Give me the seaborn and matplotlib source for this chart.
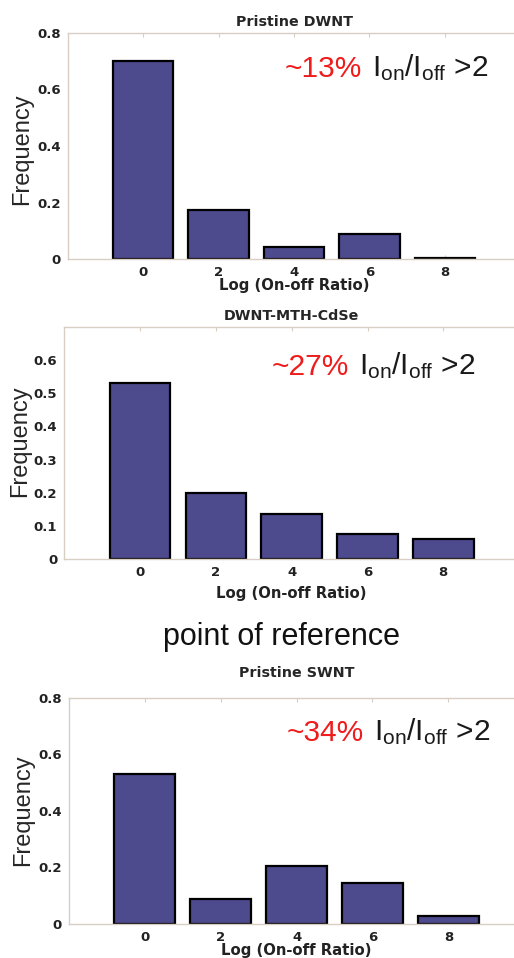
import matplotlib
matplotlib.use("Agg")
import matplotlib.pyplot as plt
import seaborn as sns
import pandas as pd

# =============================
# Data
# =============================
log_ratio = [0, 2, 4, 6, 8]

freq_dwnt = [0.70, 0.175, 0.044, 0.087, 0.003]
freq_cdse = [0.531, 0.198, 0.137, 0.076, 0.061]
freq_swnt = [0.529, 0.087, 0.205, 0.144, 0.029]

titles = ["Pristine DWNT", "DWNT-MTH-CdSe", "Pristine SWNT"]
percents = ["~13%", "~27%", "~34%"]
ymax = [0.8, 0.7, 0.8]
yticks = [[0, 0.2, 0.4, 0.6, 0.8],
          [0, 0.1, 0.2, 0.3, 0.4, 0.5, 0.6],
          [0, 0.2, 0.4, 0.6, 0.8]]
ytick_labels = [["0", "0.2", "0.4", "0.6", "0.8"],
                ["0", "0.1", "0.2", "0.3", "0.4", "0.5", "0.6"],
                ["0", "0.2", "0.4", "0.6", "0.8"]]

# =============================
# Style
# =============================
sns.set_style("white")
plt.rcParams["font.family"] = ["Liberation Sans", "DejaVu Sans"]
plt.rcParams["mathtext.fontset"] = "custom"
plt.rcParams["mathtext.rm"] = "Liberation Sans"
plt.rcParams["mathtext.it"] = "Liberation Sans"

bar_color = "#4d4a8e"
spine_color = "#d8cec3"
small_font = ["DejaVu Sans"]

fig = plt.figure(figsize=(5.14, 9.58), dpi=100)

# axes boxes in figure fraction: left, bottom, width, height
boxes = [[0.132, 0.7296, 0.880, 0.236],
         [0.125, 0.4162, 0.885, 0.2428],
         [0.134, 0.0355, 0.886, 0.2362]]
title_pad = [5, 5, 15]
xlabel_pos = [(0.5, -0.084), (0.5, -0.115), (0.5, -0.083)]
ylabel_pos = [(-0.102, 0.487), (-0.097, 0.509), (-0.101, 0.504)]
annot_x = [0.48, 0.456, 0.479]
annot_y = [0.804, 0.792, 0.81]

all_freq = [freq_dwnt, freq_cdse, freq_swnt]

for i in range(3):
    ax = fig.add_axes(boxes[i])
    df = pd.DataFrame({"x": log_ratio, "f": all_freq[i]})
    sns.barplot(data=df, x="x", y="f", native_scale=True, width=0.8,
                color=bar_color, saturation=1, edgecolor="black",
                linewidth=1.6, ax=ax)
    ax.set_xlim(-2, 10)
    ax.set_ylim(0, ymax[i])
    ax.set_xticks(log_ratio)
    ax.set_xticklabels([str(v) for v in log_ratio], fontsize=9.5,
                       fontweight="bold", color="#222222", family=small_font)
    ax.set_yticks(yticks[i])
    ax.set_yticklabels(ytick_labels[i], fontsize=9.5, fontweight="bold",
                       color="#222222", family=small_font)
    ax.tick_params(axis="both", direction="in", length=3, color=spine_color,
                   top=True, bottom=True, left=False, pad=5)
    for s in ["left", "bottom", "top"]:
        ax.spines[s].set_color(spine_color)
        ax.spines[s].set_linewidth(1.0)
    ax.spines["right"].set_visible(False)

    ax.set_ylabel("Frequency", fontsize=17)
    ax.yaxis.set_label_coords(*ylabel_pos[i])
    ax.yaxis.label.set_verticalalignment("center")
    ax.set_xlabel("Log (On-off Ratio)", fontsize=10.7, fontweight="bold",
                  color="#222222", family=small_font)
    ax.xaxis.set_label_coords(*xlabel_pos[i])
    ax.set_title(titles[i], fontsize=10.3, fontweight="bold",
                 pad=title_pad[i], family=small_font)

    # annotation: red percentage + black ratio
    red = ax.text(annot_x[i], annot_y[i], percents[i], transform=ax.transAxes,
                  fontsize=21.5, color="#ee1c1c", ha="left", va="baseline")
    ax.annotate(r"I$_{\rm on}$/I$_{\rm off}$ >2", xy=(1, 0), xycoords=red,
                xytext=(7, 0), textcoords="offset points", fontsize=21.5,
                color="#1a1a1a", ha="left", va="bottom")

fig.text(0.548, 1 - 637 / 958, "point of reference", fontsize=22,
         ha="center", va="center", color="#111111")

fig.savefig("out.png", dpi=100)
